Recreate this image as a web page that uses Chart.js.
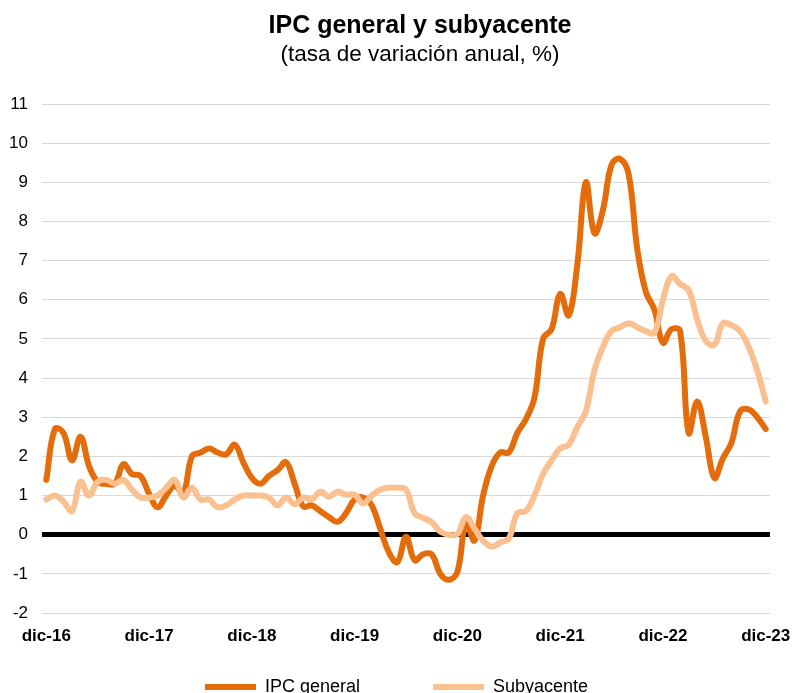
<!DOCTYPE html>
<html lang="es">
<head>
<meta charset="utf-8">
<title>IPC general y subyacente</title>
<script src="https://cdn.jsdelivr.net/npm/chart.js@4.4.1/dist/chart.umd.min.js"></script>
<style>
  html, body { margin: 0; padding: 0; background: #fff; overflow: hidden; }
  #wrap { position: relative; width: 793px; height: 693px; overflow: hidden; background: #fff; }
  .title { position: absolute; left: 0; width: 840px; text-align: center; color: #000;
           font-family: 'Liberation Sans', Arial, Helvetica, sans-serif; white-space: nowrap; }
  #title-main { top: 10px; font-size: 25px; font-weight: bold; }
  #title-sub { top: 41px; font-size: 22.5px; }
  #myChart { position: absolute; left: 0; top: 0; }
</style>
</head>
<body>
<div id="wrap">
  <canvas id="myChart" width="793" height="720"></canvas>
  <div class="title" id="title-main">IPC general y subyacente</div>
  <div class="title" id="title-sub">(tasa de variación anual, %)</div>
</div>
<script>
'use strict';

// ******* DATA *******
let monthNames = ['ene', 'feb', 'mar', 'abr', 'may', 'jun', 'jul', 'ago', 'sep', 'oct', 'nov', 'dic'];
let firstYear = 2016; // series starts dic-16, ends dic-23

// IPC general, monthly from dic-16 to dic-23
let ipcGeneral = [
  1.4,
  2.7, 2.6, 1.9, 2.5, 1.75, 1.35, 1.3, 1.3, 1.8, 1.55, 1.5, 1.05,
  0.7, 1.0, 1.25, 1.05, 2.0, 2.1, 2.2, 2.1, 2.05, 2.3, 1.85, 1.45,
  1.3, 1.5, 1.65, 1.85, 1.3, 0.72, 0.75, 0.6, 0.45, 0.33, 0.55, 0.9,
  0.95, 0.75, 0.15, -0.45, -0.7, -0.05, -0.65, -0.5, -0.5, -1.0, -1.15, -0.95,
  0.3, -0.15, 1.0, 1.75, 2.1, 2.1, 2.6, 2.95, 3.5, 5.0, 5.25, 6.15,
  5.6, 6.9, 9.0, 7.7, 8.3, 9.45, 9.6, 9.2, 7.3, 6.2, 5.75, 4.9,
  5.25, 5.2, 2.6, 3.4, 2.5, 1.45, 1.95, 2.35, 3.15, 3.2, 3.0, 2.7
];

// Subyacente, same months
let subyacente = [
  0.9,
  1.0, 0.85, 0.6, 1.35, 1.0, 1.35, 1.4, 1.3, 1.4, 1.15, 0.95, 0.95,
  1.0, 1.2, 1.4, 0.95, 1.2, 0.9, 0.9, 0.7, 0.75, 0.9, 1.0, 1.0,
  1.0, 0.95, 0.75, 0.95, 0.78, 0.95, 0.9, 1.1, 0.97, 1.1, 1.02, 1.02,
  0.8, 1.0, 1.15, 1.2, 1.2, 1.15, 0.55, 0.43, 0.32, 0.08, 0.0, 0.02,
  0.45, 0.15, -0.15, -0.3, -0.2, -0.1, 0.55, 0.6, 1.0, 1.55, 1.9, 2.2,
  2.3, 2.75, 3.15, 4.2, 4.8, 5.2, 5.3, 5.4, 5.3, 5.2, 5.15, 6.0,
  6.6, 6.4, 6.25, 5.5, 4.95, 4.85, 5.4, 5.35, 5.2, 4.8, 4.2, 3.4
];

let yMin = -2;
let yMax = 11;

// ******* HELPERS *******
function buildLabels(count) {
  let labels = [];
  for (let i = 0; i < count; i++) {
    let m = (11 + i) % 12;
    let y = firstYear + Math.floor((11 + i) / 12);
    labels.push(monthNames[m] + '-' + String(y).slice(2));
  }
  return labels;
}

let labels = buildLabels(ipcGeneral.length);
let fontFamily = "'Liberation Sans', Arial, Helvetica, sans-serif";

// ******* CHART *******
const ctx = document.getElementById('myChart').getContext('2d');
const myChart = new Chart(ctx, {
  type: 'line',
  data: {
    labels: labels,
    datasets: [{
      label: 'IPC general',
      data: ipcGeneral,
      borderColor: '#E46C0A',
      backgroundColor: '#E46C0A',
      borderWidth: 6,
      borderCapStyle: 'round',
      borderJoinStyle: 'round',
      pointRadius: 0,
      tension: 0.4,
      order: 1
    },
    {
      label: 'Subyacente',
      data: subyacente,
      borderColor: '#FAC090',
      backgroundColor: '#FAC090',
      borderWidth: 6,
      borderCapStyle: 'round',
      borderJoinStyle: 'round',
      pointRadius: 0,
      tension: 0.4,
      order: 0
    }]
  },
  options: {
    responsive: false,
    animation: false,
    layout: {
      padding: { top: 104, right: 0, left: 0, bottom: 14 }
    },
    plugins: {
      title: { display: false },
      tooltip: { enabled: false },
      legend: {
        display: true,
        position: 'bottom',
        labels: {
          usePointStyle: true,
          pointStyle: 'line',
          pointStyleWidth: 51,
          color: '#000',
          padding: 10,
          font: { family: fontFamily, size: 18 },
          sort: (a, b) => a.datasetIndex - b.datasetIndex,
          generateLabels: function (chart) {
            let items = Chart.defaults.plugins.legend.labels.generateLabels(chart);
            // widen the first entry so the gap between items matches
            items.forEach(function (item) {
              if (item.datasetIndex === 0) {
                item.text = item.text + '\u2003\u2003\u2003\u2002';
              }
            });
            return items;
          }
        }
      }
    },
    scales: {
      x: {
        offset: true,
        grid: { display: false, drawTicks: false },
        border: { display: false },
        afterFit: function (scale) { scale.height = 55; },
        ticks: {
          autoSkip: false,
          maxRotation: 0,
          padding: 0,
          color: '#000',
          font: { family: fontFamily, size: 17, weight: 'bold', lineHeight: 2.7 },
          callback: function (value, index) {
            return index % 12 === 0 ? this.getLabelForValue(value) : '';
          }
        }
      },
      y: {
        min: yMin,
        max: yMax,
        afterFit: function (scale) { scale.width = 42; },
        border: { display: false },
        grid: {
          drawTicks: false,
          color: (c) => (c.tick && c.tick.value === 0 ? '#000000' : '#D9D9D9'),
          lineWidth: (c) => (c.tick && c.tick.value === 0 ? 5 : 1)
        },
        ticks: {
          stepSize: 1,
          padding: 14,
          color: '#000',
          font: { family: fontFamily, size: 17 }
        }
      },
      // empty right-hand axis, only reserves the right margin
      yRight: {
        position: 'right',
        display: true,
        min: yMin,
        max: yMax,
        afterFit: function (scale) { scale.width = 23; },
        border: { display: false },
        grid: { display: false, drawTicks: false },
        ticks: { display: false }
      }
    }
  }
});
</script>
</body>
</html>
